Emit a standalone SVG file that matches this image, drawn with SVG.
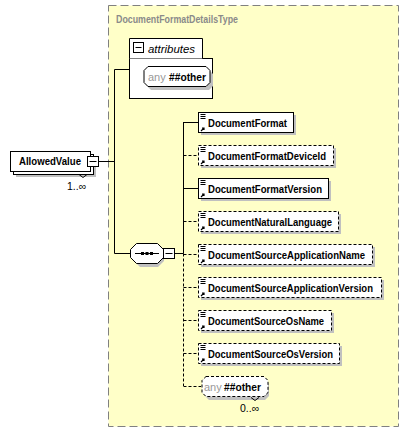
<svg xmlns="http://www.w3.org/2000/svg" width="409" height="433" viewBox="0 0 409 433">
<style>
.t{font-family:"Liberation Sans",Arial,sans-serif;font-size:11px;font-weight:bold;fill:#000}
.g{font-family:"Liberation Sans",Arial,sans-serif;font-size:11px;fill:#999}
.box{fill:#fff;stroke:#000;stroke-width:1}
.dbox{fill:#fff;stroke:#000;stroke-width:1;stroke-dasharray:3,2}
.sh{fill:#c0c0c0}
.ln{stroke:#000;stroke-width:1;fill:none}
.dl{stroke:#000;stroke-width:1;fill:none;stroke-dasharray:3,2}
</style>
<defs>
<g id="ico">
<path d="M1.5 1.5h5M1.5 3.5h5M1.5 5.5h5" stroke="#000" stroke-width="1"/>
<path d="M2 18l3-3M3 15h2v2" stroke="#000" stroke-width="1.2" fill="none"/>
</g>
</defs>
<rect x="0" y="0" width="409" height="433" fill="#fff"/>
<g id="complexType">
<rect x="108.5" y="5.5" width="290" height="421" fill="#ffffc8" stroke="#808080" stroke-dasharray="8,4"/>
<text x="116" y="23" style="font-family:'Liberation Sans',Arial,sans-serif;font-size:10.5px;font-weight:bold;fill:#8a8a8a" textLength="122" lengthAdjust="spacingAndGlyphs">DocumentFormatDetailsType</text>
</g>
<g id="connectors">
<path class="ln" d="M99 161.5H114.5M114.5 69.5V253.5M114.5 69.5H129M114.5 253.5H130"/>
<path class="ln" d="M175 253.5H183.5M183.5 122V253.5"/>
<path class="dl" d="M183.5 253.5V386"/>
<path class="ln" d="M183.5 122.5H198M183.5 188.5H198"/>
<path class="dl" d="M183.5 155.5H198M183.5 221.5H198M183.5 254.5H198M183.5 287.5H198M183.5 320.5H198M183.5 353.5H198M183.5 386.5H201"/>
</g>
<g id="attributes">
<rect x="129.5" y="58.5" width="83" height="40" class="box"/>
<path d="M129.5 58.5V38.5H202.5V58.5" class="box"/>
<rect x="133.5" y="42.5" width="10" height="10" fill="#fff" stroke="#000"/>
<path d="M135.5 47.5h6" stroke="#000"/>
<text x="148" y="53" style="font-family:'Liberation Sans',Arial,sans-serif;font-size:11px;font-style:italic" textLength="47" lengthAdjust="spacingAndGlyphs">attributes</text>
<path class="sh" d="M151 70h58l4 4v12l-4 4h-58l-4-4v-12z"/>
<path d="M148 66.5h58l4 4v12l-4 4h-58l-4-4v-12z" class="box"/>
<text x="148" y="81" class="g">any</text>
<text x="169" y="81" class="t" textLength="37" lengthAdjust="spacingAndGlyphs">##other</text>
</g>
<g id="AllowedValue">
<rect x="16" y="157" width="80" height="20" class="sh"/>
<rect x="13.5" y="154.5" width="80" height="20" class="box"/>
<rect x="10.5" y="151.5" width="80" height="20" class="box"/>
<text x="19" y="165" class="t" textLength="62" lengthAdjust="spacingAndGlyphs">AllowedValue</text>
<path d="M79 174.5l4 3 4-3" class="ln"/>
<rect x="87.5" y="156.5" width="11" height="10" fill="#fff" stroke="#000"/>
<path d="M89.5 161.5h7" stroke="#000"/>
<text x="67" y="190" style="font-family:'Liberation Sans',Arial,sans-serif;font-size:10.5px">1..∞</text>
</g>
<g id="sequence">
<path class="sh" d="M140 247h18l6 6v8l-6 6h-18l-6-6v-8z"/>
<path d="M136.5 243.5h21l6 6v8l-6 6h-21l-6-6v-8z" class="box"/>
<path d="M135 253.5h24" stroke="#000"/>
<rect x="141" y="252" width="3" height="3" fill="#000"/>
<rect x="145.5" y="252" width="3" height="3" fill="#000"/>
<rect x="150" y="252" width="3" height="3" fill="#000"/>
<rect x="163.5" y="248.5" width="11" height="10" fill="#fff" stroke="#000"/>
<path d="M165.5 253.5h7" stroke="#000"/>
</g>
<g id="DocumentFormat">
<rect x="201" y="115" width="95" height="20" class="sh"/>
<rect x="198.5" y="112.5" width="95" height="20" class="box"/>
<use href="#ico" x="199" y="113"/>
<text x="208" y="126.5" class="t" textLength="79" lengthAdjust="spacingAndGlyphs">DocumentFormat</text>
</g>
<g id="DocumentFormatDeviceId">
<rect x="201" y="148" width="135" height="20" class="sh"/>
<rect x="198.5" y="145.5" width="135" height="20" class="dbox"/>
<use href="#ico" x="199" y="146"/>
<text x="208" y="159.5" class="t" textLength="118" lengthAdjust="spacingAndGlyphs">DocumentFormatDeviceId</text>
</g>
<g id="DocumentFormatVersion">
<rect x="201" y="181" width="130" height="20" class="sh"/>
<rect x="198.5" y="178.5" width="130" height="20" class="box"/>
<use href="#ico" x="199" y="179"/>
<text x="208" y="192.5" class="t" textLength="114" lengthAdjust="spacingAndGlyphs">DocumentFormatVersion</text>
</g>
<g id="DocumentNaturalLanguage">
<rect x="201" y="214" width="140" height="20" class="sh"/>
<rect x="198.5" y="211.5" width="140" height="20" class="dbox"/>
<use href="#ico" x="199" y="212"/>
<text x="208" y="225.5" class="t" textLength="124" lengthAdjust="spacingAndGlyphs">DocumentNaturalLanguage</text>
</g>
<g id="DocumentSourceApplicationName">
<rect x="201" y="247" width="174" height="20" class="sh"/>
<rect x="198.5" y="244.5" width="174" height="20" class="dbox"/>
<use href="#ico" x="199" y="245"/>
<text x="208" y="258.5" class="t" textLength="157" lengthAdjust="spacingAndGlyphs">DocumentSourceApplicationName</text>
</g>
<g id="DocumentSourceApplicationVersion">
<rect x="201" y="280" width="183" height="20" class="sh"/>
<rect x="198.5" y="277.5" width="183" height="20" class="dbox"/>
<use href="#ico" x="199" y="278"/>
<text x="208" y="291.5" class="t" textLength="165" lengthAdjust="spacingAndGlyphs">DocumentSourceApplicationVersion</text>
</g>
<g id="DocumentSourceOsName">
<rect x="201" y="313" width="133" height="20" class="sh"/>
<rect x="198.5" y="310.5" width="133" height="20" class="dbox"/>
<use href="#ico" x="199" y="311"/>
<text x="208" y="324.5" class="t" textLength="116" lengthAdjust="spacingAndGlyphs">DocumentSourceOsName</text>
</g>
<g id="DocumentSourceOsVersion">
<rect x="201" y="346" width="141" height="20" class="sh"/>
<rect x="198.5" y="343.5" width="141" height="20" class="dbox"/>
<use href="#ico" x="199" y="344"/>
<text x="208" y="357.5" class="t" textLength="125" lengthAdjust="spacingAndGlyphs">DocumentSourceOsVersion</text>
</g>
<g id="anyOther">
<path class="sh" d="M209 380h56l4 4v12l-4 4h-56l-4-4v-12z"/>
<path d="M206 376.5h58l4 4v12l-4 4h-58l-4-4v-12z" class="dbox"/>
<text x="204" y="391" class="g">any</text>
<text x="224" y="391" class="t" textLength="37" lengthAdjust="spacingAndGlyphs">##other</text>
<path d="M251 397.5l4 3 4-3" class="ln"/>
<text x="240" y="412" style="font-family:'Liberation Sans',Arial,sans-serif;font-size:10.5px">0..∞</text>
</g>
</svg>
